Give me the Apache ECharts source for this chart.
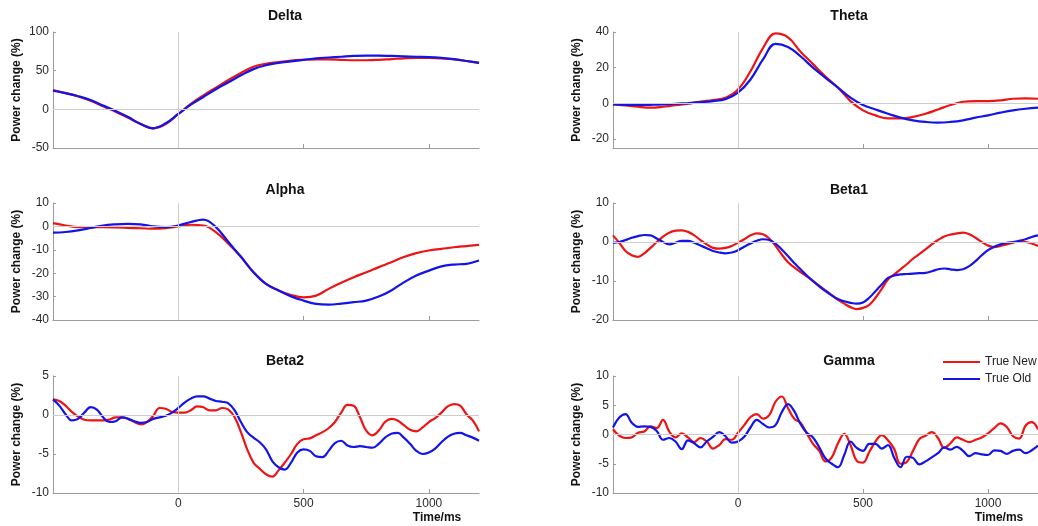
<!DOCTYPE html>
<html>
<head>
<meta charset="utf-8">
<script src="https://cdn.jsdelivr.net/npm/echarts@6/dist/echarts.min.js"></script>
<style>
  html, body { margin: 0; padding: 0; background: #ffffff; }
  #chart { width: 1038px; height: 526px; }
</style>
</head>
<body>
<div id="chart"></div>
<script>
// Sample times (ms) for the slow bands and for the fast, wiggly bands
const TIME_50 = [-500,-450,-400,-350,-300,-250,-200,-150,-100,-50,0,50,100,150,200,250,300,350,400,450,500,550,600,650,700,750,800,850,900,950,1000,1050,1100,1150,1200];
const TIME_25 = [-500,-475,-450,-425,-400,-375,-350,-325,-300,-275,-250,-225,-200,-175,-150,-125,-100,-75,-50,-25,0,25,50,75,100,125,150,175,200,225,250,275,300,325,350,375,400,425,450,475,500,525,550,575,600,625,650,675,700,725,750,775,800,825,850,875,900,925,950,975,1000,1025,1050,1075,1100,1125,1150,1175,1200];

// Power change (%) per band: "True New" and "True Old"
const DELTA_NEW = [25,21,17,11,4,-3,-11,-19,-24.5,-19,-6,7,18,28,38,47,55,59,61,63,64,64.5,64.5,64,63.5,63.5,64,65,66,66.5,66.5,66,64.5,62.5,60];
const DELTA_OLD = [24,21,17,12,5,-2,-10,-19,-24.5,-18,-6,6,16,26,35,44,52,57,60,62,64,66,67,68,69,69.5,69.5,69,68.5,68,67.5,66.5,65,62.5,60];

const THETA_NEW = [-0.5,-1.2,-1.9,-2.4,-1.9,-1.0,-0.2,1.0,1.9,3.2,7.8,18,31,39.2,37,29,22,15,8.8,1.3,-3.9,-6.7,-8.4,-8.4,-7.6,-5.8,-3.4,-0.9,0.9,1.3,1.3,1.7,2.6,2.8,2.6];
const THETA_OLD = [-0.5,-0.8,-0.9,-0.8,-0.6,-0.2,0.2,0.7,1.3,2.4,6,13.4,24.6,33.4,31.6,26.4,20,14.3,8.8,3.2,-0.9,-3.4,-5.8,-8,-9.5,-10.4,-10.8,-10.4,-9.5,-8,-6.7,-5.2,-3.9,-3,-2.4];

const ALPHA_NEW = [1.4,0.4,-0.3,-0.3,-0.3,-0.4,-0.6,-0.8,-1,-0.7,0,0.7,0.4,-2.4,-7.4,-13,-19.6,-24.6,-27.4,-29.3,-30.3,-29.6,-26.7,-24.1,-21.7,-19.6,-17.4,-15.3,-13.1,-11.4,-10.3,-9.6,-8.9,-8.4,-7.9];
const ALPHA_OLD = [-2.7,-2.4,-1.7,-0.7,0.4,0.9,1.1,0.9,0,-0.3,0.4,1.9,2.9,-0.3,-6.7,-13,-19.6,-24.6,-27.4,-29.9,-31.7,-33.1,-33.4,-33,-32.4,-31.7,-30,-27.4,-23.9,-21,-18.9,-17.1,-16.3,-16,-14.6];

const BETA1_NEW = [1.7,-0.2,-2.3,-3.4,-3.8,-2.9,-1.5,0,1.4,2.4,2.9,3,2.6,1.7,0.5,-0.6,-1.5,-1.7,-1.5,-1,-0.2,0.7,1.7,2.2,2,0.9,-1,-3.2,-5.2,-6.5,-7.7,-8.8,-10,-11.2,-12.4,-13.6,-14.8,-15.8,-16.7,-17.2,-16.9,-16.1,-14.3,-12,-9.6,-8.3,-7,-5.7,-4.3,-3.1,-1.9,-0.6,0.5,1.4,1.9,2.2,2.4,2,1.1,0,-0.9,-1.3,-1,-0.6,-0.2,0.1,0,-0.4,-1];
const BETA1_OLD = [-0.2,0,0.5,1.1,1.5,1.8,1.7,0.9,0,-0.6,-0.2,0.3,0.3,-0.2,-0.9,-1.6,-2.3,-2.7,-2.9,-2.7,-2.1,-1.2,-0.4,0.3,0.7,0.5,-0.4,-1.9,-3.6,-5.4,-7,-8.6,-10,-11.4,-12.6,-13.7,-14.6,-15.2,-15.6,-15.8,-15.5,-14.3,-12.6,-10.9,-9.2,-8.6,-8.3,-8.2,-8.1,-8,-7.9,-7.5,-7,-6.8,-7,-7.2,-7,-6.2,-4.9,-3.4,-2.1,-1.2,-0.6,-0.2,0,0.3,0.7,1.3,1.7];

const BETA2_NEW = [2,1.8,1.2,0.4,-0.2,-0.6,-0.7,-0.7,-0.7,-0.6,-0.3,-0.3,-0.5,-0.9,-1.2,-0.9,-0.1,0.9,0.8,0.4,0.3,0.3,0.6,1.1,1,0.6,0.6,0.9,0.7,-0.3,-2.2,-4.4,-6.1,-6.9,-7.6,-7.9,-7.1,-6.1,-5,-3.7,-3.1,-3,-2.6,-2.2,-1.7,-0.9,0.3,1.3,1.2,-0.3,-2,-2.6,-2,-0.9,-0.5,-0.7,-1.3,-1.9,-2.1,-1.6,-0.9,-0.4,0.3,1.1,1.4,1.2,0.1,-0.7,-2.1];
const BETA2_OLD = [2,1.2,0.1,-0.7,-0.5,0.3,1,0.7,-0.3,-0.9,-0.8,-0.3,-0.5,-0.8,-1,-0.9,-0.5,-0.3,-0.1,0.3,0.9,1.6,2.1,2.4,2.4,2.1,1.8,1.7,1.5,0.6,-0.9,-2.2,-2.9,-3.5,-4.4,-5.9,-6.7,-7,-6.1,-4.8,-4.4,-4.6,-5.3,-5.4,-4.6,-3.6,-3.3,-3.9,-4.1,-4,-4.1,-4.2,-3.7,-2.9,-2.4,-2.3,-2.9,-3.7,-4.6,-5,-4.8,-4.3,-3.5,-2.8,-2.4,-2.3,-2.6,-2.9,-3.3];

const GAMMA_NEW = [0.9,-0.2,-0.6,-0.5,0.3,0.5,1.4,1.1,2.5,0.5,-0.5,0.2,-0.5,-1.3,-0.6,-1.2,-2.4,-1.8,-0.8,-0.9,0.3,1.6,3.0,3.5,2.7,3.3,5.6,6.5,4.5,2.7,2.0,0.2,-1.6,-2.8,-4.6,-3.9,-1.5,0.1,-1.8,-4.5,-4.8,-3,-1.2,-0.1,-1,-2.5,-5,-4.7,-2.8,-0.8,-0.2,0.4,-0.6,-2.3,-1.5,-0.5,-0.9,-1.3,-0.9,-0.5,0.2,1.1,1.9,1.3,-0.3,-0.7,1.5,2.1,0.9];
const GAMMA_OLD = [1.2,2.9,3.5,2,1.3,1.4,1.3,0.6,-0.9,-0.6,-1.2,-2.5,-1,-1.5,-2.2,-1.2,-0.4,0.4,-0.3,-1.4,-1.2,-0.4,1.2,2.5,1.8,1.2,1.6,3.8,5.2,4,1.8,0.3,-0.5,-2.2,-4.1,-5,-5.6,-3.5,-1.2,-2.3,-2.8,-1.6,-1.6,-2.4,-1.8,-4,-5.6,-3.8,-4,-5.1,-4.6,-3.9,-3.2,-2.2,-2.6,-2.1,-2.8,-3.7,-3.2,-3.4,-3.5,-2.7,-2.8,-3.3,-2.8,-2.6,-3.2,-2.7,-1.9];

// Axis ticks
const X_TICKS = [0, 500, 1000];
const DELTA_TICKS = [-50, 0, 50, 100];
const THETA_TICKS = [-20, 0, 20, 40];
const ALPHA_TICKS = [-40, -30, -20, -10, 0, 10];
const BETA1_TICKS = [-20, -10, 0, 10];
const BETA2_TICKS = [-10, -5, 0, 5];
const GAMMA_TICKS = [-10, -5, 0, 5, 10];

const BANDS = [
  { name: 'Delta', time: TIME_50, a: DELTA_NEW, b: DELTA_OLD, ticks: DELTA_TICKS, min: -50, max: 100 },
  { name: 'Theta', time: TIME_50, a: THETA_NEW, b: THETA_OLD, ticks: THETA_TICKS, min: -25, max: 40 },
  { name: 'Alpha', time: TIME_50, a: ALPHA_NEW, b: ALPHA_OLD, ticks: ALPHA_TICKS, min: -40, max: 10 },
  { name: 'Beta1', time: TIME_25, a: BETA1_NEW, b: BETA1_OLD, ticks: BETA1_TICKS, min: -20, max: 10 },
  { name: 'Beta2', time: TIME_25, a: BETA2_NEW, b: BETA2_OLD, ticks: BETA2_TICKS, min: -10, max: 5 },
  { name: 'Gamma', time: TIME_25, a: GAMMA_NEW, b: GAMMA_OLD, ticks: GAMMA_TICKS, min: -10, max: 10 }
];

// Panel boxes (px) and title anchors, 3 rows x 2 columns
const COL_LEFT = [53, 613];
const COL_WIDTH = 426;
const ROW_TOP = [32, 203, 376];
const ROW_HEIGHT = [116, 117, 117];
const TITLE_X = [285, 849];
const TITLE_Y = [16, 190, 361];

const RED = '#ec1414';
const BLUE = '#1414e8';
const AXIS = '#9c9c9c';
const ZERO = '#cdcdcd';
const FONT = '"Liberation Sans", Arial, Helvetica, sans-serif';

const grids = [], xAxes = [], yAxes = [], series = [], graphics = [];
const plain = v => String(v);

BANDS.forEach((band, i) => {
  const row = Math.floor(i / 2), col = i % 2;
  const bottomRow = row === 2;
  grids.push({ left: COL_LEFT[col], top: ROW_TOP[row], width: COL_WIDTH, height: ROW_HEIGHT[row], containLabel: false });

  xAxes.push({
    gridIndex: i, type: 'value', min: -500, max: 1200,
    axisLine: { show: true, onZero: false, lineStyle: { color: AXIS, width: 1 } },
    axisTick: { show: true, inside: true, length: 4, customValues: X_TICKS, lineStyle: { color: AXIS } },
    axisLabel: { show: bottomRow, customValues: X_TICKS, formatter: plain, fontSize: 12, color: '#2a2a2a', margin: 5, fontFamily: FONT },
    splitLine: { show: false }
  });

  yAxes.push({
    gridIndex: i, type: 'value', min: band.min, max: band.max,
    name: 'Power change (%)', nameLocation: 'middle', nameGap: 30,
    nameTextStyle: { fontSize: 12, fontWeight: 'bold', color: '#111', fontFamily: FONT },
    axisLine: { show: true, onZero: false, lineStyle: { color: AXIS, width: 1 } },
    axisTick: { show: true, inside: true, length: 3, customValues: band.ticks, lineStyle: { color: AXIS } },
    axisLabel: { customValues: band.ticks, formatter: plain, fontSize: 12, color: '#2a2a2a', margin: 4, fontFamily: FONT },
    splitLine: { show: false }
  });

  // zero reference lines behind the curves
  series.push({
    type: 'line', xAxisIndex: i, yAxisIndex: i, data: [], z: 1, silent: true,
    markLine: {
      silent: true, symbol: ['none', 'none'], label: { show: false },
      lineStyle: { color: ZERO, width: 1, type: 'solid' },
      emphasis: { disabled: true },
      data: [{ yAxis: 0 }, { xAxis: 0 }]
    }
  });

  const pairs = arr => band.time.map((t, k) => [t, arr[k]]);
  series.push({
    name: 'True New', type: 'line', xAxisIndex: i, yAxisIndex: i, data: pairs(band.a),
    smooth: 0.4, symbol: 'none', z: 3,
    lineStyle: { color: RED, width: 2.2 }, itemStyle: { color: RED }
  });
  series.push({
    name: 'True Old', type: 'line', xAxisIndex: i, yAxisIndex: i, data: pairs(band.b),
    smooth: 0.4, symbol: 'none', z: 4,
    lineStyle: { color: BLUE, width: 2.2 }, itemStyle: { color: BLUE }
  });

  graphics.push({
    type: 'text', x: TITLE_X[col], y: TITLE_Y[row],
    style: { text: band.name, align: 'center', verticalAlign: 'middle', font: 'bold 14px ' + FONT, fill: '#111' }
  });
});

// x-axis captions under the bottom row
graphics.push({ type: 'text', x: 437, y: 518, style: { text: 'Time/ms', align: 'center', verticalAlign: 'middle', font: 'bold 12px ' + FONT, fill: '#111' } });
graphics.push({ type: 'text', x: 999, y: 518, style: { text: 'Time/ms', align: 'center', verticalAlign: 'middle', font: 'bold 12px ' + FONT, fill: '#111' } });

const chart = echarts.init(document.getElementById('chart'), null, { renderer: 'canvas' });
chart.setOption({
  animation: false,
  backgroundColor: '#ffffff',
  grid: grids,
  xAxis: xAxes,
  yAxis: yAxes,
  series: series,
  graphic: graphics,
  legend: {
    data: ['True New', 'True Old'],
    orient: 'vertical', left: 938, top: 350,
    icon: 'rect', itemWidth: 37, itemHeight: 2, itemGap: 3,
    textStyle: { fontSize: 12, color: '#222', fontFamily: FONT, lineHeight: 14 }
  }
});
</script>
</body>
</html>
